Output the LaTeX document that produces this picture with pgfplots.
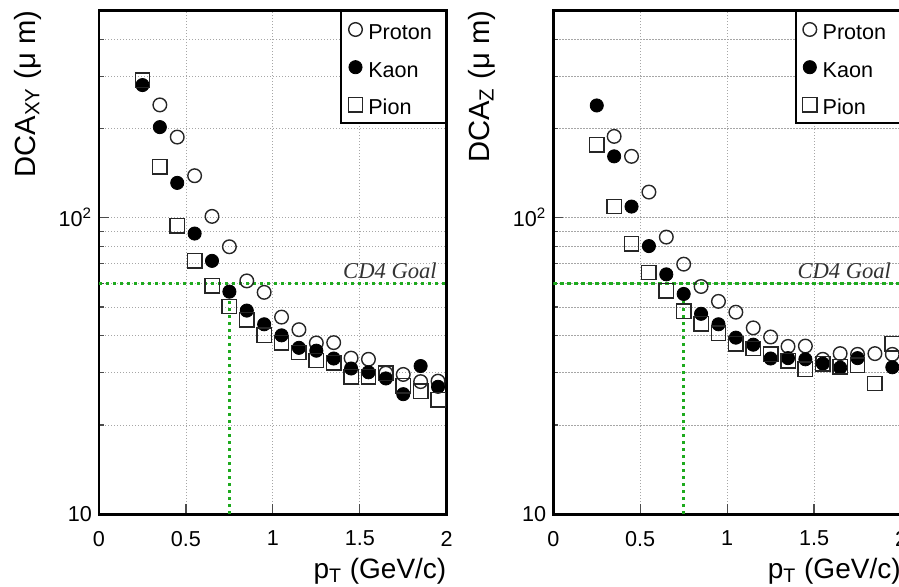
\documentclass[border=0pt]{standalone}
\usepackage{pgfplots}
\pgfplotsset{compat=1.18}
\usepackage{fontspec}
\setmainfont{Liberation Sans}
\newfontfamily\timesfont{Liberation Serif}
\definecolor{goalgreen}{RGB}{30,170,30}
\pgfplotsset{
  legend image code/.code={\draw[mark repeat=2,mark phase=2,#1] plot coordinates {(0pt,0pt)(4pt,0pt)(8pt,0pt)};},
}
\pgfplotsset{
  dcaax/.style={
    scale only axis, width=173.85pt, height=251.9pt, anchor=south west,
    xmin=0, xmax=2, ymin=10, ymax=500,
    xtick={0,0.5,1,1.5,2}, xticklabels={0,0.5,1,1.5,2},
    ytick={10,100}, yticklabels={10,10\textsuperscript{2}},
    minor ytick={20,30,40,50,60,70,80,90,200,300,400},
    tick pos=left, tick align=inside,
    major tick length=5pt, minor tick length=2.5pt,
    every tick/.style={black!70, line width=0.6pt},
    xmajorgrids, ymajorgrids, yminorgrids,
    major grid style={gray!70, line width=0.4pt, dash pattern=on 0.7pt off 0.8pt},
    minor grid style={gray!70, line width=0.4pt, dash pattern=on 0.7pt off 0.8pt},
    axis line style={line width=1.3pt},
    ticklabel style={font=\fontsize{10.8}{12}\selectfont},
    xticklabel style={yshift=-4.9pt},
    xlabel style={at={(axis description cs:1,0)}, anchor=base east, yshift=-32.2pt, font=\fontsize{14}{16}\selectfont, inner sep=0pt},
    ylabel style={at={(axis description cs:-0.184,1)}, anchor=base east, font=\fontsize{14.6}{16}\selectfont, inner sep=0pt},
    legend style={at={(rel axis cs:1,1)}, anchor=north east, draw=black, line width=1pt, fill=white,
      inner xsep=3.5pt, inner ysep=2.5pt, row sep=5.75pt, column sep=2.8pt,
      font=\fontsize{10.8}{12}\selectfont, nodes={inner sep=0pt}},
    legend cell align=left,
  },
  proton/.style={only marks, mark=o, mark size=3.4pt, mark options={draw=black!85, line width=0.7pt, fill=none}},
  kaon/.style={only marks, mark=*, mark size=3.3pt, mark options={draw=black, fill=black, line width=0.4pt}},
  pion/.style={only marks, mark=square, mark size=3.6pt, mark options={draw=black!85, line width=0.7pt, fill=none}},
  goal/.style={goalgreen, line width=1.5pt, dash pattern=on 1.6pt off 1.9pt, no marks, forget plot},
}
\newcommand{\lent}[1]{\makebox[35.2pt][l]{\rule[-2.35pt]{0pt}{13.95pt}#1}}
\begin{document}
\begin{tikzpicture}
\begin{scope}
\clip (0,0) rectangle (449.5pt,293pt);
\begin{semilogyaxis}[dcaax, at={(49.5pt,35.9pt)},
  xlabel={p\textsubscript{T} (GeV/c)}, ylabel={DCA\textsubscript{XY} (μ m)}]
\addplot[proton] coordinates {(0.35,240) (0.45,187) (0.55,138.5) (0.65,101) (0.75,79.8) (0.85,61.2) (0.95,56) (1.05,46.2) (1.15,41.9) (1.25,37.8) (1.35,37.9) (1.45,33.6) (1.55,33.3) (1.65,29.9) (1.75,29.6) (1.85,28.0) (1.95,28.1)};
\addlegendentry{\lent{Proton}}
\addplot[kaon] coordinates {(0.25,280) (0.35,202) (0.45,131) (0.55,88.4) (0.65,71.5) (0.75,56.3) (0.85,48.6) (0.95,43.7) (1.05,40.1) (1.15,36.4) (1.25,35.6) (1.35,33.5) (1.45,31.0) (1.55,30.1) (1.65,28.7) (1.75,25.4) (1.85,31.6) (1.95,26.9)};
\addlegendentry{\lent{Kaon}}
\addplot[pion] coordinates {(0.25,291) (0.35,148.5) (0.45,94) (0.55,71.5) (0.65,58.9) (0.75,50.2) (0.85,45.2) (0.95,40.1) (1.05,37.9) (1.15,35.1) (1.25,33.0) (1.35,32.4) (1.45,29.1) (1.55,29.1) (1.65,29.9) (1.75,27.1) (1.85,26.0) (1.95,24.3)};
\addlegendentry{\lent{Pion}}
\addplot[goal] coordinates {(0,60) (2,60)};
\addplot[goal] coordinates {(0.75,10) (0.75,60)};
\node[anchor=base east, inner sep=0pt, text=black!80, font=\timesfont\itshape\fontsize{11.3}{13}\selectfont] at (axis cs:1.945,62.4) {CD4 Goal};
\end{semilogyaxis}
\begin{semilogyaxis}[dcaax, at={(276.65pt,35.9pt)},
  xlabel={p\textsubscript{T} (GeV/c)}, ylabel={DCA\textsubscript{Z} (μ m)}]
\addplot[proton] coordinates {(0.35,188) (0.45,161) (0.55,122) (0.65,86) (0.75,69.7) (0.85,58.6) (0.95,52.2) (1.05,48.0) (1.15,42.5) (1.25,39.6) (1.35,36.8) (1.45,36.9) (1.55,33.3) (1.65,34.8) (1.75,34.6) (1.85,34.8) (1.95,34.6)};
\addlegendentry{\lent{Proton}}
\addplot[kaon] coordinates {(0.25,239) (0.35,161) (0.45,109) (0.55,80.2) (0.65,64.4) (0.75,55.3) (0.85,47.4) (0.95,43.7) (1.05,39.4) (1.15,37.3) (1.25,33.5) (1.35,33.6) (1.45,33.3) (1.55,32.2) (1.65,31.2) (1.75,33.6) (1.95,31.3)};
\addlegendentry{\lent{Kaon}}
\addplot[pion] coordinates {(0.25,176) (0.35,109) (0.45,81.7) (0.55,65.3) (0.65,56.7) (0.75,48.4) (0.85,43.9) (0.95,40.8) (1.05,37.6) (1.15,36.2) (1.25,34.6) (1.35,32.9) (1.45,30.8) (1.55,32.2) (1.65,31.4) (1.75,31.8) (1.85,27.6) (1.95,37.6)};
\addlegendentry{\lent{Pion}}
\addplot[goal] coordinates {(0,60) (2,60)};
\addplot[goal] coordinates {(0.75,10) (0.75,60)};
\node[anchor=base east, inner sep=0pt, text=black!80, font=\timesfont\itshape\fontsize{11.3}{13}\selectfont] at (axis cs:1.945,62.4) {CD4 Goal};
\end{semilogyaxis}
\end{scope}
\pgfresetboundingbox
\useasboundingbox (0,0) rectangle (449.5pt,293pt);
\end{tikzpicture}
\end{document}
